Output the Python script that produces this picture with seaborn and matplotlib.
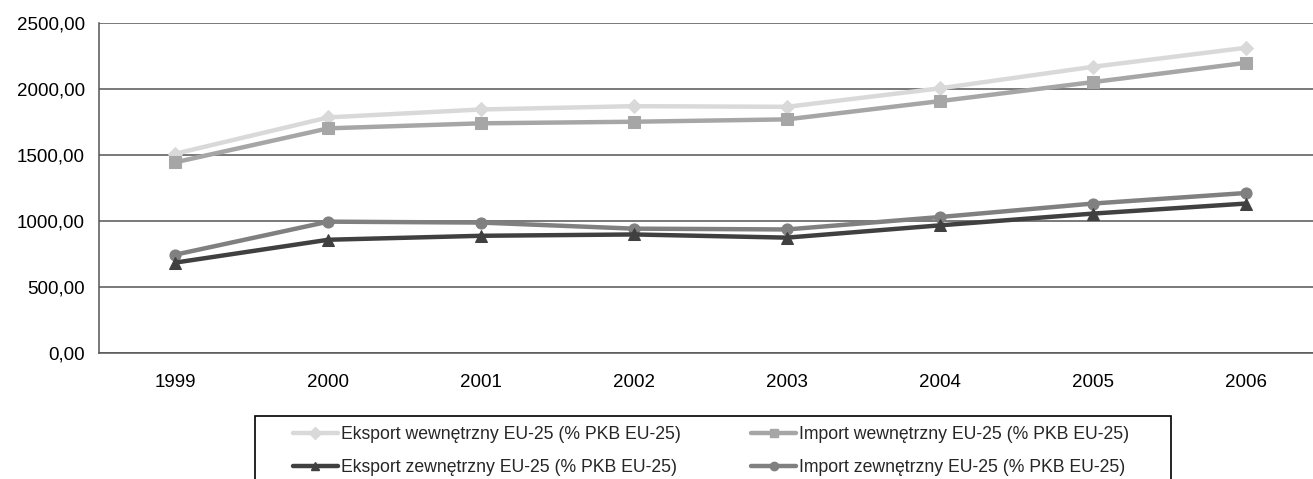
import numpy as np
import pandas as pd
import matplotlib
matplotlib.use("Agg")
import matplotlib.pyplot as plt
from matplotlib.ticker import FuncFormatter, FixedLocator
from matplotlib.patches import Rectangle
from matplotlib.lines import Line2D
import seaborn as sns

years = ["1999", "2000", "2001", "2002", "2003", "2004", "2005", "2006"]
eksport_wew = [1510, 1785, 1845, 1870, 1865, 2005, 2168, 2312]
import_wew = [1445, 1702, 1740, 1752, 1770, 1908, 2052, 2198]
eksport_zew = [685, 858, 888, 898, 874, 967, 1056, 1132]
import_zew = [745, 995, 988, 942, 936, 1030, 1132, 1212]

labels = [
    "Eksport wewnętrzny EU-25 (% PKB EU-25)",
    "Eksport zewnętrzny EU-25 (% PKB EU-25)",
    "Import wewnętrzny EU-25 (% PKB EU-25)",
    "Import zewnętrzny EU-25 (% PKB EU-25)",
]
series = [eksport_wew, eksport_zew, import_wew, import_zew]
colors = ["#D9D9D9", "#404040", "#A6A6A6", "#808080"]
markers = ["D", "^", "s", "o"]
msizes = [7.5, 9, 9, 8]
zorders = [3, 4, 3.5, 3.8]

sns.set_style("white")
plt.rcParams["font.family"] = ["Liberation Sans", "DejaVu Sans"]

W, H = 1313, 479
fig = plt.figure(figsize=(W / 100, H / 100), dpi=100)
ax = fig.add_axes([99 / W, (H - 353) / H, (1322 - 99) / W, 330 / H])

x = np.arange(len(years))
for lab, vals, c, m, ms, z in zip(labels, series, colors, markers, msizes, zorders):
    df = pd.DataFrame({"x": x, "y": vals})
    sns.lineplot(data=df, x="x", y="y", ax=ax, color=c, marker=m,
                 markersize=ms, markeredgecolor=c, linewidth=3.2,
                 zorder=z, legend=False)

ax.set_xlim(-0.5, len(years) - 0.5)
ax.set_ylim(0, 2500)
ax.set_xlabel("")
ax.set_ylabel("")
ax.set_yticks(np.arange(0, 2501, 500))
ax.yaxis.set_major_formatter(FuncFormatter(lambda v, p: f"{v:.2f}".replace(".", ",")))
ax.set_xticks(x)
ax.set_xticklabels(years)
ax.xaxis.set_minor_locator(FixedLocator(np.arange(-0.5, len(years), 1.0)))
ax.tick_params(axis="x", which="major", length=0, pad=15, labelsize=13.5, colors="black")
ax.tick_params(axis="x", which="minor", length=5, width=1, color="#555555", direction="out")
ax.tick_params(axis="y", which="major", length=5, width=1, color="#555555",
               direction="out", pad=5, labelsize=13.5, labelcolor="black")

ax.grid(axis="y", color="#555555", linewidth=1.1)
ax.set_axisbelow(True)
for s in ["top", "right"]:
    ax.spines[s].set_visible(False)
for s in ["left", "bottom"]:
    ax.spines[s].set_color("#555555")
    ax.spines[s].set_linewidth(1.1)

# legend frame
fig.patches.append(Rectangle((255 / W, -0.2), (1171 - 255) / W, (H - 416) / H + 0.2,
                             transform=fig.transFigure, fill=False,
                             edgecolor="black", linewidth=1.2))

leg_handles = []
for lab, c, m in zip(labels, colors, markers):
    leg_handles.append(Line2D([], [], color=c, marker=m, markersize=6,
                              markeredgecolor=c, linewidth=3.2))
fig.legend(leg_handles, labels, ncol=2, loc="upper left",
           bbox_to_anchor=(293 / W, (H - 426) / H), bbox_transform=fig.transFigure,
           frameon=False, borderpad=0, borderaxespad=0, handlelength=2.55,
           handletextpad=0.15, columnspacing=4.0, labelspacing=0.9,
           fontsize=12.7)

fig.savefig("out.png", dpi=100)
